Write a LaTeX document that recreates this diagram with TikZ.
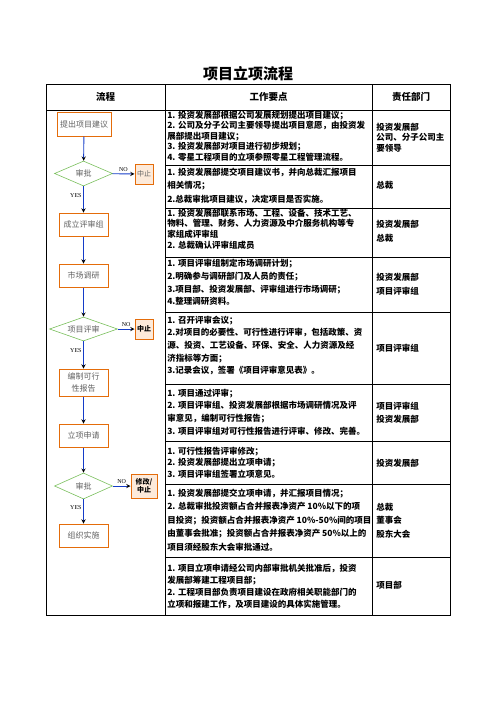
\documentclass[tikz,border=0pt]{standalone}
\usepackage{fontspec}
\usetikzlibrary{shapes.geometric,arrows}
\newfontfamily\cjk{Noto Sans CJK SC}
\newfontfamily\labfont{Liberation Serif}
\definecolor{boxorange}{RGB}{228,108,10}
\definecolor{stopfill}{RGB}{253,234,218}
\definecolor{diagreen}{RGB}{120,190,90}
\definecolor{arrowblue}{RGB}{20,60,200}
\definecolor{flowgray}{RGB}{96,96,96}

\begin{document}
\begin{tikzpicture}
            [x=1pt, y=-1pt, >=stealth, semithick,
             stepbox/.style={draw=boxorange, line width=1pt, text=flowgray, minimum width=49pt, minimum height=23pt, inner sep=1pt, align=center, font=\cjk\fontsize{8}{12}\selectfont},
             stopbox/.style={draw=boxorange, line width=1pt, fill=stopfill, text=flowgray, minimum width=18pt, minimum height=20pt, inner sep=0.5pt, align=center, font=\cjk\fontsize{7}{9}\selectfont},
             check/.style={shape=diamond, draw=diagreen, aspect=2.5, inner sep=0pt, text=flowgray, font=\cjk\fontsize{8}{10}\selectfont},
             flow/.style={->, draw=arrowblue, line width=0.9pt},
             yn/.style={font=\labfont\fontsize{6}{7}\selectfont, inner sep=1.5pt},
             work/.style={anchor=west, align=left, inner sep=0pt, font=\cjk\bfseries\fontsize{8.5}{#1}\selectfont},
             dept/.style={anchor=west, align=left, inner sep=0pt, font=\cjk\bfseries\fontsize{8.5}{#1}\selectfont},
             head/.style={font=\cjk\bfseries\fontsize{9.5}{11}\selectfont}]
            \useasboundingbox (0,0) rectangle (496,702);

            % table frame
            \draw[line width=0.9pt] (46,84) rectangle (450,615);
            \draw[line width=0.8pt] (46,110) -- (450,110);
            \draw[line width=0.8pt] (165,84) -- (165,615);
            \draw[line width=0.8pt] (372,84) -- (372,615);
            \foreach \y in {165,208,257,312,384,441,484,557}
                \draw[line width=0.8pt] (165,\y) -- (450,\y);

            \node[font=\cjk\bfseries\fontsize{15}{18}\selectfont] (title) at (248,73.5) {项目立项流程};
            \node[head] (hflow) at (105.5,97) {流程};
            \node[head] (hwork) at (268.5,97) {工作要点};
            \node[head] (hdept) at (411,97) {责任部门};

            % flow column
            \node[stepbox, minimum width=54pt, minimum height=24pt] (propose) at (84,124) {提出项目建议};
            \node[check, minimum width=58pt, minimum height=25pt] (check1) at (83.5,173.5) {审批};
            \node[stopbox] (stop1) at (144,174) {中止};
            \node[stepbox] (team) at (83.5,224.5) {成立评审组};
            \node[stepbox] (market) at (83.5,275.5) {市场调研};
            \node[check, minimum width=68pt, minimum height=24pt] (check2) at (83.5,329) {项目评审};
            \node[stopbox, text=black, font=\cjk\bfseries\fontsize{7}{9}\selectfont] (stop2) at (144,329) {中止};
            \node[stepbox, minimum height=27pt] (report) at (83.5,382.5) {编制可行\\性报告};
            \node[stepbox] (apply) at (83.5,435.5) {立项申请};
            \node[check, minimum width=58pt, minimum height=26pt] (check3) at (83.5,486) {审批};
            \node[stopbox, minimum width=26pt, minimum height=24pt, text=black, font=\cjk\bfseries\fontsize{7}{8.5}\selectfont] (stop3) at (144,486) {修改/\\中止};
            \node[stepbox] (execute) at (83.5,535.5) {组织实施};

            \path [flow] (propose) edge (check1);
            \path [flow] (check1) edge node[yn, above] {NO} (stop1);
            \path [flow] (check1) edge node[yn, left, pos=0.35] {YES} (team);
            \path [flow] (team) edge (market);
            \path [flow] (market) edge (check2);
            \path [flow] (check2) edge node[yn, above] {NO} (stop2);
            \path [flow] (check2) edge node[yn, left, pos=0.35] {YES} (report);
            \path [flow] (report) edge (apply);
            \path [flow] (apply) edge (check3);
            \path [flow] (check3) edge node[yn, above] {NO} (stop3);
            \path [flow] (check3) edge node[yn, left, pos=0.35] {YES} (execute);

            % work points
            \node[work=10.5] (work1) at (167,136) {1. 投资发展部根据公司发展规划提出项目建议；\\2. 公司及分子公司主要领导提出项目意愿，由投资发\\展部提出项目建议；\\3. 投资发展部对项目进行初步规划；\\4. 零星工程项目的立项参照零星工程管理流程。};
            \node[work=13.5] (work2) at (167,185.5) {1. 投资发展部提交项目建议书，并向总裁汇报项目\\相关情况；\\2.总裁审批项目建议，决定项目是否实施。};
            \node[work=10.7] (work3) at (167,229) {1. 投资发展部联系市场、工程、设备、技术工艺、\\物料、管理、财务、人力资源及中介服务机构等专\\家组成评审组\\2. 总裁确认评审组成员};
            \node[work=12.8] (work4) at (167,282.5) {1. 项目评审组制定市场调研计划；\\2.明确参与调研部门及人员的责任；\\3.项目部、投资发展部、评审组进行市场调研；\\4.整理调研资料。};
            \node[work=12.7] (work5) at (167,345.5) {1. 召开评审会议；\\2.对项目的必要性、可行性进行评审，包括政策、资\\源、投资、工艺设备、环保、安全、人力资源及经\\济指标等方面；\\3.记录会议，签署《项目评审意见表》。};
            \node[work=12.7] (work6) at (167,412) {1. 项目通过评审；\\2. 项目评审组、投资发展部根据市场调研情况及评\\审意见，编制可行性报告；\\3. 项目评审组对可行性报告进行评审、修改、完善。};
            \node[work=11.5] (work7) at (167,462.5) {1. 可行性报告评审修改；\\2. 投资发展部提出立项申请；\\3. 项目评审组签署立项意见。};
            \node[work=13.5] (work8) at (167,520) {1. 投资发展部提交立项申请，并汇报项目情况；\\2. 总裁审批投资额占合并报表净资产 10\%以下的项\\目投资；投资额占合并报表净资产 10\%-50\%间的项目\\由董事会批准；投资额占合并报表净资产 50\%以上的\\项目须经股东大会审批通过。};
            \node[work=11.7] (work9) at (167,586.5) {1. 项目立项申请经公司内部审批机关批准后，投资\\发展部筹建工程项目部；\\2. 工程项目部负责项目建设在政府相关职能部门的\\立项和报建工作，及项目建设的具体实施管理。};

            % departments
            \node[dept=10.5] (dept1) at (376,137.5) {投资发展部\\公司、分子公司主\\要领导};
            \node[dept=12] (dept2) at (376,185) {总裁};
            \node[dept=14] (dept3) at (376,231) {投资发展部\\总裁};
            \node[dept=14] (dept4) at (376,284) {投资发展部\\项目评审组};
            \node[dept=12] (dept5) at (376,348) {项目评审组};
            \node[dept=13] (dept6) at (376,412.5) {项目评审组\\投资发展部};
            \node[dept=12] (dept7) at (376,463) {投资发展部};
            \node[dept=13.5] (dept8) at (376,520.5) {总裁\\董事会\\股东大会};
            \node[dept=12] (dept9) at (376,585) {项目部};
        \end{tikzpicture}
\end{document}
